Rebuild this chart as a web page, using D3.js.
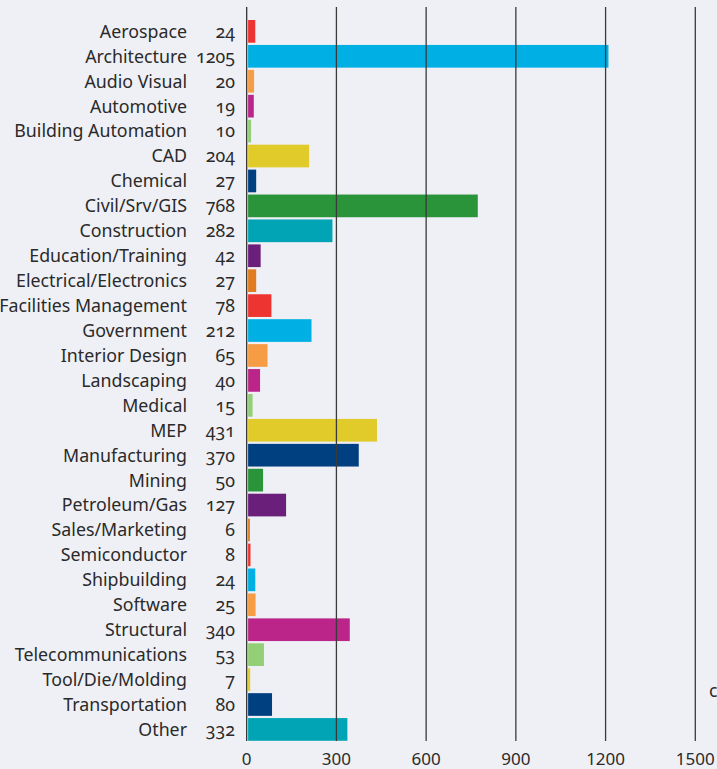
<!DOCTYPE html>
<html><head><meta charset="utf-8">
<script src="https://cdn.jsdelivr.net/npm/d3@7"></script>
<style>
html,body{margin:0;padding:0;background:#eff0f5;}
svg{display:block;}
text{font-family:"Noto Sans","Open Sans",sans-serif;fill:#2a2a2a;}
.val{font-variant-numeric:oldstyle-nums;font-feature-settings:"onum" 1;}
</style></head>
<body>
<script>
const categories = ["Aerospace","Architecture","Audio Visual","Automotive","Building Automation","CAD","Chemical","Civil/Srv/GIS","Construction","Education/Training","Electrical/Electronics","Facilities Management","Government","Interior Design","Landscaping","Medical","MEP","Manufacturing","Mining","Petroleum/Gas","Sales/Marketing","Semiconductor","Shipbuilding","Software","Structural","Telecommunications","Tool/Die/Molding","Transportation","Other"];
const values = [24,1205,20,19,10,204,27,768,282,42,27,78,212,65,40,15,431,370,50,127,6,8,24,25,340,53,7,80,332];
const colors = ["#ee3430","#00afe3","#f59c45","#bb2589","#92cf76","#e0cb2a","#003f80","#2a943a","#00a4b4","#6a1f7a","#e07b20","#ee3430","#00afe3","#f59c45","#bb2589","#92cf76","#e0cb2a","#003f80","#2a943a","#6a1f7a","#e07b20","#ee3430","#00afe3","#f59c45","#bb2589","#92cf76","#e0cb2a","#003f80","#00a4b4"];
const ticks = [0,300,600,900,1200,1500];

const W=717,H=769;
const svg=d3.select("body").append("svg").attr("width",W).attr("height",H);
svg.append("rect").attr("width",W).attr("height",H).attr("fill","#eff0f5");

const x=d3.scaleLinear().domain([0,1500]).range([246.7,695.3]);
const y=d3.scaleBand().domain(categories).range([18.9,741.9]).paddingInner(0.09).paddingOuter(0.045);

// bars
svg.append("g").selectAll("rect").data(categories).join("rect")
  .attr("x",x(0)+1.4)
  .attr("y",d=>y(d))
  .attr("width",(d,i)=>Math.max(0,x(values[i])-x(0)))
  .attr("height",y.bandwidth())
  .attr("fill",(d,i)=>colors[i]);

// gridlines (drawn on top)
const gTop=7, gBot=741;
svg.append("g").selectAll("line").data(ticks).join("line")
  .attr("x1",d=>x(d)).attr("x2",d=>x(d))
  .attr("y1",gTop).attr("y2",gBot)
  .attr("stroke",d=>d===0?"#222":"#3a3a3a")
  .attr("stroke-width",d=>d===0?1.2:1.3);

// axis tick labels
svg.append("g").selectAll("text").data(ticks).join("text")
  .attr("x",d=>x(d)).attr("y",765)
  .attr("text-anchor","middle")
  .attr("font-size",17)
  .text(d=>d);

// category labels
svg.append("g").selectAll("text").data(categories).join("text")
  .attr("x",187).attr("y",d=>y(d)+y.bandwidth()/2)
  .attr("dy","0.36em")
  .attr("text-anchor","end")
  .attr("font-size",17.8)
  .text(d=>d);

// values
svg.append("g").selectAll("text").data(categories).join("text")
  .attr("class","val")
  .attr("x",235).attr("y",d=>y(d)+y.bandwidth()/2)
  .attr("dy","0.36em")
  .attr("text-anchor","end")
  .attr("font-size",17.8)
  .text((d,i)=>values[i]);

// clipped text at right edge
svg.append("text").attr("x",709).attr("y",697).attr("font-size",17.8).text("c");
</script>
</body></html>
